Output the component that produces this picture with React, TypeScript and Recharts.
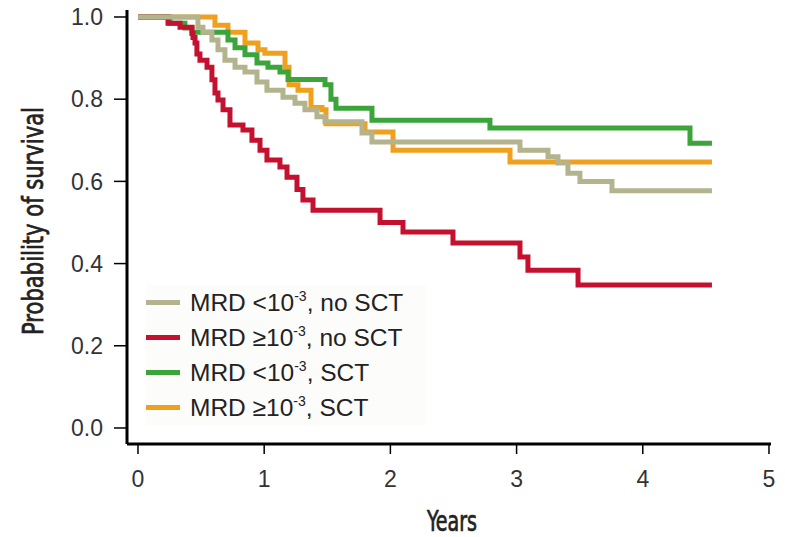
import React from 'react';
import { LineChart, Line, XAxis, YAxis, Label } from 'recharts';

// Kaplan-Meier curves: step times (years) and survival
const tanTimes = [0, 0.475, 0.515, 0.586, 0.634, 0.689, 0.769, 0.848, 0.943, 1.022, 1.149, 1.244, 1.323, 1.418, 1.482, 1.775, 1.854, 3.027, 3.249, 3.328, 3.407, 3.502, 3.756, 4.548];
const tanSurv = [1.0, 0.975, 0.963, 0.944, 0.92, 0.895, 0.878, 0.866, 0.842, 0.822, 0.805, 0.79, 0.774, 0.757, 0.745, 0.718, 0.696, 0.676, 0.66, 0.645, 0.62, 0.6, 0.577, 0.577];

const redTimes = [0, 0.238, 0.333, 0.428, 0.436, 0.452, 0.467, 0.491, 0.547, 0.586, 0.61, 0.634, 0.674, 0.729, 0.832, 0.903, 0.967, 1.022, 1.125, 1.181, 1.26, 1.307, 1.387, 1.918, 2.1, 2.496, 3.027, 3.09, 3.487, 4.548];
const redSurv = [1.0, 0.985, 0.975, 0.96, 0.95, 0.937, 0.91, 0.895, 0.878, 0.847, 0.815, 0.798, 0.774, 0.737, 0.725, 0.7, 0.676, 0.652, 0.635, 0.61, 0.58, 0.555, 0.53, 0.5, 0.477, 0.45, 0.416, 0.384, 0.348, 0.348];

const greenTimes = [0, 0.254, 0.372, 0.428, 0.713, 0.769, 0.848, 0.943, 1.03, 1.125, 1.189, 1.482, 1.529, 1.569, 1.854, 2.789, 4.374, 4.548];
const greenSurv = [1.0, 0.985, 0.973, 0.963, 0.944, 0.925, 0.908, 0.888, 0.878, 0.866, 0.848, 0.835, 0.8, 0.778, 0.749, 0.73, 0.693, 0.693];

const orangeTimes = [0, 0.61, 0.713, 0.848, 0.951, 1.006, 1.165, 1.197, 1.268, 1.371, 1.458, 1.49, 1.799, 2.021, 2.948, 4.548];
const orangeSurv = [1.0, 0.98, 0.963, 0.937, 0.92, 0.912, 0.878, 0.835, 0.822, 0.78, 0.774, 0.74, 0.72, 0.676, 0.647, 0.647];

const xTicks = [0, 1, 2, 3, 4, 5];
const yTicks = [0, 0.2, 0.4, 0.6, 0.8, 1.0];

const toRows = (times: number[], surv: number[]) =>
    times.map((t, i) => ({ t, s: surv[i] }));

// legend order as in the figure; drawing order below keeps tan on top
const series = [
    { key: 'tan', op: '<', tail: 'no SCT', color: '#b3b48d', data: toRows(tanTimes, tanSurv) },
    { key: 'red', op: '≥', tail: 'no SCT', color: '#c3112f', data: toRows(redTimes, redSurv) },
    { key: 'green', op: '<', tail: 'SCT', color: '#3ba43b', data: toRows(greenTimes, greenSurv) },
    { key: 'orange', op: '≥', tail: 'SCT', color: '#efa01f', data: toRows(orangeTimes, orangeSurv) },
];
const drawOrder = ['orange', 'green', 'red', 'tan'];

const titleFont = '"Liberation Sans Narrow", "DejaVu Sans Condensed", sans-serif';
const tickFont = '"Liberation Sans", Arial, sans-serif';

const YTitle = () => (
    <text
        x={33}
        y={221}
        transform="rotate(-90 33 221)"
        textAnchor="middle"
        dominantBaseline="central"
        fontFamily={titleFont}
        fontSize={28}
        fill="#222"
        stroke="#222"
        strokeWidth={0.7}
        textLength={228}
        lengthAdjust="spacingAndGlyphs"
    >
        Probability of survival
    </text>
);

const XTitle = () => (
    <text
        x={452}
        y={521}
        textAnchor="middle"
        dominantBaseline="central"
        fontFamily={titleFont}
        fontSize={28}
        fill="#222"
        stroke="#222"
        strokeWidth={0.7}
        textLength={50}
        lengthAdjust="spacingAndGlyphs"
    >
        Years
    </text>
);

const XTick = (props: any) => (
    <text x={props.x} y={props.y} dy="0.72em" textAnchor="middle" fontFamily={tickFont} fontSize={23} fill="#333">
        {props.payload.value}
    </text>
);

const YTick = (props: any) => (
    <text x={props.x} y={props.y} dy="0.36em" textAnchor="end" fontFamily={tickFont} fontSize={23} fill="#333">
        {Number(props.payload.value).toFixed(1)}
    </text>
);

export default function App() {
    return (
        <div style={{ position: 'absolute', left: 0, top: 0, width: 785, height: 537, background: '#fff' }}>
            <LineChart
                width={785}
                height={537}
                margin={{ top: 10, right: 14, left: 0, bottom: 0 }}
            >
                <XAxis
                    type="number"
                    dataKey="t"
                    domain={[-0.087, 5.016]}
                    ticks={xTicks}
                    allowDataOverflow
                    height={93}
                    axisLine={{ stroke: '#000', strokeWidth: 3 }}
                    tickLine={{ stroke: '#000', strokeWidth: 1.5 }}
                    tickSize={10}
                    tickMargin={16}
                    tick={XTick}
                >
                    <Label content={XTitle} />
                </XAxis>
                <YAxis
                    type="number"
                    domain={[-0.039, 1.017]}
                    ticks={yTicks}
                    allowDataOverflow
                    width={127}
                    axisLine={{ stroke: '#000', strokeWidth: 3 }}
                    tickLine={{ stroke: '#000', strokeWidth: 1.5 }}
                    tickSize={13}
                    tickMargin={11}
                    tick={YTick}
                >
                    <Label content={YTitle} />
                </YAxis>
                {drawOrder.map((k) => {
                    const s = series.find((x) => x.key === k)!;
                    return (
                        <Line
                            key={k}
                            data={s.data}
                            dataKey="s"
                            type="stepAfter"
                            stroke={s.color}
                            strokeWidth={5}
                            strokeLinejoin="miter"
                            dot={false}
                            activeDot={false}
                            isAnimationActive={false}
                        />
                    );
                })}
            </LineChart>
            <div
                style={{
                    position: 'absolute',
                    left: 146,
                    top: 285,
                    width: 280,
                    background: '#fcfcfa',
                    fontFamily: tickFont,
                    fontSize: 24.5,
                    color: '#222',
                }}
            >
                {series.map((s) => (
                    <div key={s.key} style={{ display: 'flex', alignItems: 'center', height: 35 }}>
                        <span style={{ display: 'inline-block', width: 34, height: 5, background: s.color, marginRight: 10 }} />
                        <span style={{ whiteSpace: 'nowrap' }}>
                            MRD {s.op}10<sup style={{ fontSize: 14, verticalAlign: 0, position: 'relative', top: -10 }}>-3</sup>, {s.tail}
                        </span>
                    </div>
                ))}
            </div>
        </div>
    );
}
